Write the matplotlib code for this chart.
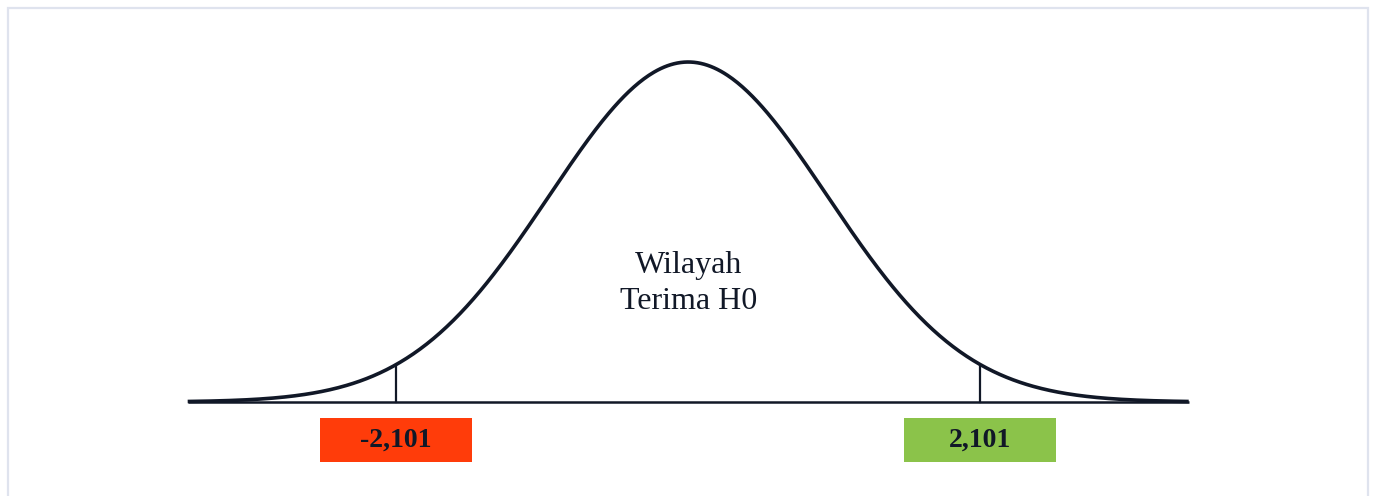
import numpy as np
import matplotlib.pyplot as plt
from matplotlib.patches import Rectangle

# critical values and labels
crit_values = [-2.101, 2.101]
crit_labels = ['-2,101', '2,101']
box_colors = ['#ff3c0a', '#8bc34a']
region_label = 'Wilayah\nTerima H0'
z_min, z_max = -3.6, 3.6

plt.rcParams['font.family'] = ['Liberation Serif', 'DejaVu Serif']

fig = plt.figure(figsize=(13.75, 4.96), dpi=100)
ax = fig.add_axes([0, 0, 1, 1])
ax.set_xlim(-4.95, 4.94)
ax.set_ylim(-0.1103, 0.4717)
ax.axis('off')

# outer frame
fig.patches.append(Rectangle((8 / 1375, -0.1), 1360 / 1375, 1 - 8 / 496 + 0.1,
                             transform=fig.transFigure, fill=False,
                             edgecolor='#dfe3ee', lw=1.6))

ink = '#111827'
z = np.linspace(z_min, z_max, 600)
pdf = lambda v: np.exp(-v ** 2 / 2) / np.sqrt(2 * np.pi)
ax.plot(z, pdf(z), color=ink, lw=2.6, solid_capstyle='butt')
ax.plot([z_min, z_max], [0, 0], color=ink, lw=1.8, solid_capstyle='butt')

for c, lab, col in zip(crit_values, crit_labels, box_colors):
    ax.plot([c, c], [0, pdf(c)], color=ink, lw=1.6)
    w, h = 1.094, 0.0516
    ax.add_patch(Rectangle((c - w / 2, -0.0704), w, h, facecolor=col,
                           edgecolor='none'))
    ax.text(c, -0.0704 + h / 2, lab, ha='center', va='center',
            fontsize=20, fontweight='bold', color=ink)

ax.text(0, 0.139, region_label, ha='center', va='center', fontsize=23,
        color=ink, linespacing=1.3)

fig.savefig('out.png', dpi=100)
